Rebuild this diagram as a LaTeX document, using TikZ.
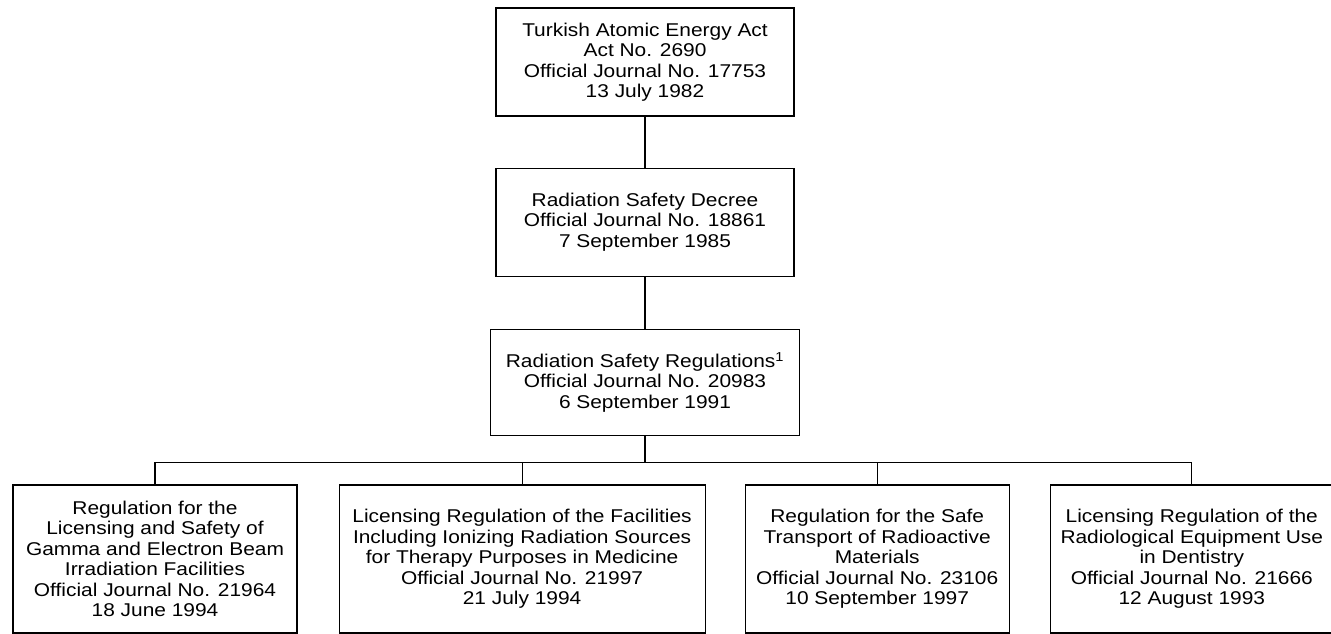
\documentclass[tikz,border=0pt]{standalone}
\usepackage{fontspec}
\setmainfont{Liberation Sans}[FakeStretch=1.13]
\usetikzlibrary{positioning}

\begin{document}
\begin{tikzpicture}[x=1pt, y=1pt, line width=1.1pt]
    \tikzstyle{law} = [rectangle, draw, align=center, inner sep=0pt, font=\fontsize{18.5}{20.5}\selectfont]
    \tikzstyle{upper} = [law, minimum width=298pt, minimum height=108pt]
    \tikzstyle{lower} = [law, minimum height=148pt]
    \tikzstyle{line} = [draw]

    \useasboundingbox (0,0) rectangle (1331,-634);

    % chain of the main texts
    \node [upper] (act) at (645,-62) {Turkish Atomic Energy Act\\ Act No. 2690\\ Official Journal No. 17753\\ 13 July 1982};
    \node [upper, below=51pt of act] (decree) {Radiation Safety Decree\\ Official Journal No. 18861\\ 7 September 1985};
    \node [upper, minimum width=309pt, minimum height=106pt, below=52pt of decree] (rules) {Radiation Safety Regulations\textsuperscript{1}\\ Official Journal No. 20983\\ 6 September 1991};

    % regulations under them
    \node [lower, minimum width=284pt] (gamma) at (155,-559) {Regulation for the\\ Licensing and Safety of\\ Gamma and Electron Beam\\ Irradiation Facilities\\ Official Journal No. 21964\\ 18 June 1994};
    \node [lower, minimum width=366pt, right=41pt of gamma] (therapy) {Licensing Regulation of the Facilities\\ Including Ionizing Radiation Sources\\ for Therapy Purposes in Medicine\\ Official Journal No. 21997\\ 21 July 1994};
    \node [lower, minimum width=264pt, right=39pt of therapy] (transport) {Regulation for the Safe\\ Transport of Radioactive\\ Materials\\ Official Journal No. 23106\\ 10 September 1997};
    \node [lower, minimum width=283pt, right=40pt of transport] (dental) {Licensing Regulation of the\\ Radiological Equipment Use\\ in Dentistry\\ Official Journal No. 21666\\ 12 August 1993};

    \path [line] (act) -- (decree);
    \path [line] (decree) -- (rules);
    \path [line] (rules.south) -- ++(0,-27) coordinate (bus);
    \path [line] (gamma.north) |- (bus) -| (dental.north);
    \path [line] (therapy.north) -- (therapy.north |- bus);
    \path [line] (transport.north) -- (transport.north |- bus);
\end{tikzpicture}
\end{document}
